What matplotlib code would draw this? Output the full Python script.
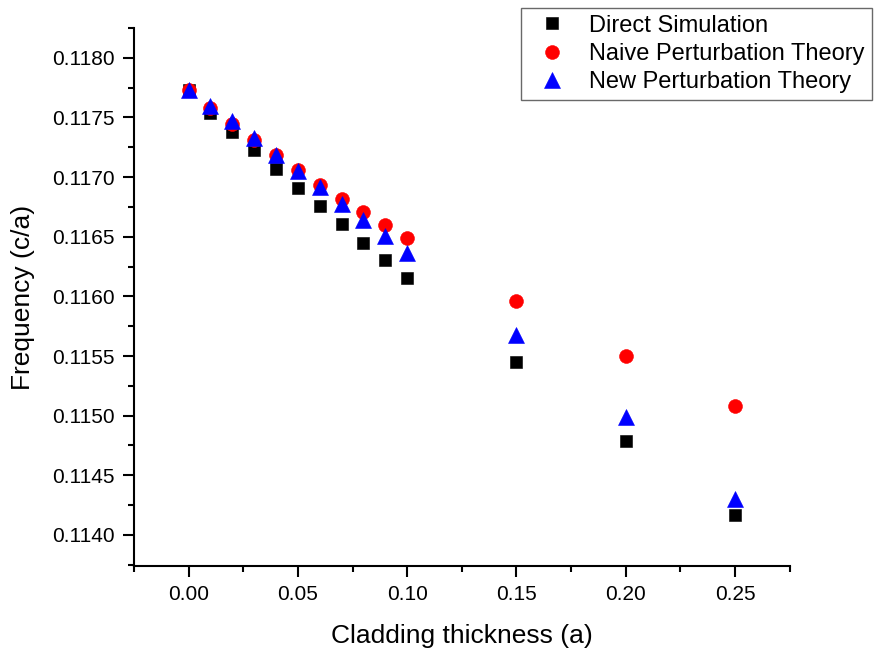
import numpy as np
import matplotlib
matplotlib.use("Agg")
import matplotlib.pyplot as plt
from matplotlib.ticker import MultipleLocator, FormatStrFormatter

# -----------------------------
# Data
# -----------------------------
thickness = [0.00, 0.01, 0.02, 0.03, 0.04, 0.05, 0.06, 0.07, 0.08, 0.09, 0.10,
             0.15, 0.20, 0.25]

direct_sim = [0.11773, 0.117536, 0.117377, 0.117224, 0.117065, 0.116911,
              0.116755, 0.116604, 0.116451, 0.116302, 0.116152,
              0.115451, 0.114787, 0.114164]

naive_pt = [0.117726, 0.11758, 0.117447, 0.117307, 0.117182, 0.117056,
            0.116936, 0.116819, 0.116707, 0.116596, 0.116489,
            0.115961, 0.115498, 0.115082]

new_pt = [0.117729, 0.1176, 0.117468, 0.117328, 0.117188, 0.11705,
          0.116916, 0.116777, 0.116637, 0.116503, 0.116364,
          0.115677, 0.114988, 0.114303]

SERIES_LABELS = ["Direct Simulation", "Naive Perturbation Theory", "New Perturbation Theory"]

TICK_FONT_SIZE = 15
LABEL_FONT_SIZE = 19
LEGEND_FONT_SIZE = 17

plt.rcParams.update({
    "font.family": ["Liberation Sans", "DejaVu Sans"],
    "axes.linewidth": 1.5,
})

fig = plt.figure(figsize=(8.74, 6.54), dpi=100)
ax = fig.add_axes([0.1533, 0.1346, 0.9039 - 0.1533, 0.9572 - 0.1346])

ax.plot(thickness, direct_sim, linestyle="none", marker="s", markersize=8.6,
        color="black", markeredgewidth=0.4, label=SERIES_LABELS[0], zorder=3)
ax.plot(thickness, naive_pt, linestyle="none", marker="o", markersize=10,
        color="#FF0000", markeredgewidth=0.4, label=SERIES_LABELS[1], zorder=4)
ax.plot(thickness, new_pt, linestyle="none", marker="^", markersize=11,
        color="#0000FF", markeredgewidth=0.4, label=SERIES_LABELS[2], zorder=5)

ax.set_xlim(-0.025, 0.2752)
ax.set_ylim(0.11374, 0.11825)

ax.xaxis.set_major_locator(MultipleLocator(0.05))
ax.xaxis.set_minor_locator(MultipleLocator(0.025))
ax.yaxis.set_major_locator(MultipleLocator(0.0005))
ax.yaxis.set_minor_locator(MultipleLocator(0.00025))
ax.xaxis.set_major_formatter(FormatStrFormatter("%.2f"))
ax.yaxis.set_major_formatter(FormatStrFormatter("%.4f"))

ax.spines["top"].set_visible(False)
ax.spines["right"].set_visible(False)

ax.tick_params(axis="both", which="major", direction="out", length=8, width=1.5,
               labelsize=TICK_FONT_SIZE, pad=6)
ax.tick_params(axis="both", which="minor", direction="out", length=4.5, width=1.5)

ax.set_xlabel("Cladding thickness (a)", fontsize=LABEL_FONT_SIZE, labelpad=14)
ax.set_ylabel("Frequency (c/a)", fontsize=LABEL_FONT_SIZE, labelpad=12)

leg = ax.legend(loc="upper left", bbox_to_anchor=(521 / 874, 1 - 8 / 654),
                bbox_transform=fig.transFigure, borderaxespad=0,
                fontsize=LEGEND_FONT_SIZE, frameon=True, fancybox=False,
                borderpad=0.28, handlelength=2.1, handletextpad=0.52,
                labelspacing=0.27, numpoints=1)
leg.get_frame().set_edgecolor("#444444")
leg.get_frame().set_linewidth(1.0)

fig.savefig("out.png", dpi=100)
